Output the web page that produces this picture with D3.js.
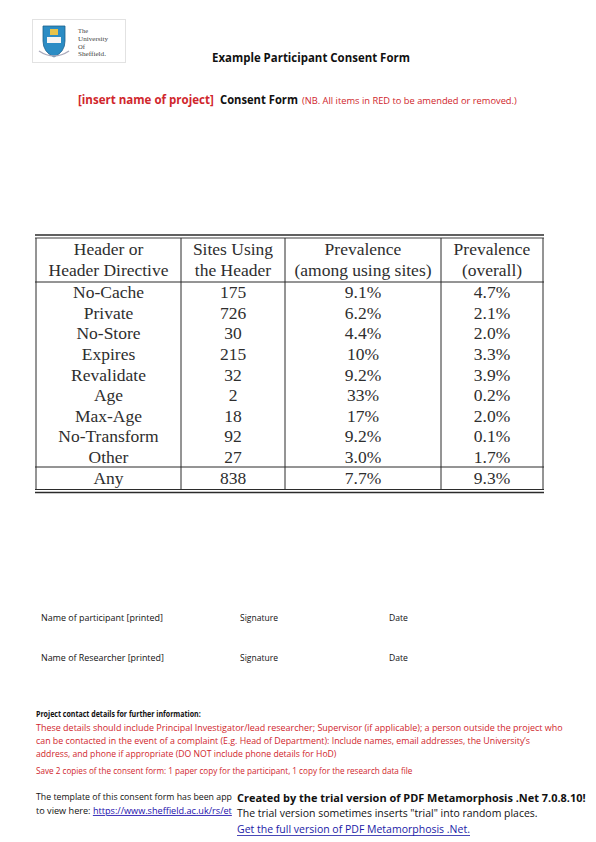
<!DOCTYPE html>
<html>
<head>
<meta charset="utf-8">
<script src="https://cdn.jsdelivr.net/npm/d3@7"></script>
<style>
  body { margin: 0; background: #fff; }
  svg { display: block; }
</style>
</head>
<body>
<div id="page"></div>
<script>
// table content
var headerLines = [
    ["Header or", "Header Directive"],
    ["Sites Using", "the Header"],
    ["Prevalence", "(among using sites)"],
    ["Prevalence", "(overall)"]
];
var directives = ["No-Cache", "Private", "No-Store", "Expires", "Revalidate", "Age", "Max-Age", "No-Transform", "Other", "Any"];
var sitesUsing = [175, 726, 30, 215, 32, 2, 18, 92, 27, 838];
var prevAmong = ["9.1%", "6.2%", "4.4%", "10%", "9.2%", "33%", "17%", "9.2%", "3.0%", "7.7%"];
var prevOverall = ["4.7%", "2.1%", "2.0%", "3.3%", "3.9%", "0.2%", "2.0%", "0.1%", "1.7%", "9.3%"];

var W = 596, H = 842;
var sans = "'Open Sans', 'Noto Sans', sans-serif";
var serif = "'Liberation Serif', 'DejaVu Serif', serif";
var red = "#d0262c";

var svg = d3.select("#page").append("svg")
    .attr("width", W)
    .attr("height", H);

// a line of text; if a width is given the text is squeezed horizontally to it
function txt(x, y, s, size, opts) {
    opts = opts || {};
    var g = svg.append("g").attr("transform", "translate(" + x + "," + y + ")");
    var t = g.append("text")
        .attr("font-family", opts.family || sans)
        .attr("font-size", size)
        .attr("font-weight", opts.bold ? "bold" : "normal")
        .attr("fill", opts.fill || "#111")
        .text(s);
    if (opts.width) {
        var k = opts.width / t.node().getComputedTextLength();
        g.attr("transform", "translate(" + x + "," + y + ") scale(" + k + ",1)");
    }
    return t;
}

// --- logo ---
svg.append("rect").attr("x", 32.5).attr("y", 19.5).attr("width", 93).attr("height", 43)
    .attr("fill", "#fff").attr("stroke", "#e2e2e2");
var shield = svg.append("g").attr("transform", "translate(42,25)");
shield.append("path")
    .attr("d", "M1,1 L23,1 L23,16 Q23,27 12,32 Q1,27 1,16 Z")
    .attr("fill", "#2b8cc4").attr("stroke", "#1d5f8a").attr("stroke-width", 0.8);
shield.append("rect").attr("x", 5).attr("y", 12).attr("width", 14).attr("height", 6).attr("fill", "#f4f4f4");
shield.append("rect").attr("x", 8).attr("y", 4).attr("width", 8).attr("height", 6).attr("fill", "#e7c34a");
shield.append("path").attr("d", "M-3,26 Q12,36 27,26").attr("fill", "none").attr("stroke", "#aab").attr("stroke-width", 1.5);
[["The", 10], ["University", 30], ["Of", 7], ["Sheffield.", 28]].forEach(function(s, i) {
    txt(78, 33 + i * 7.8, s[0], 6.6, {family: serif, fill: "#444", width: s[1]});
});

// --- headings ---
txt(212, 62, "Example Participant Consent Form", 12, {bold: true, width: 198});
txt(78, 104, "[insert name of project]", 13, {bold: true, fill: red, width: 136});
txt(220, 104, "Consent Form", 13, {bold: true, width: 78});
txt(302, 104, "(NB.  All items in RED to be amended or removed.)", 8.5, {fill: red, width: 215});

// --- table ---
var tLeft = 36, tRight = 543;
var colEdges = [tLeft, 181, 285, 441, tRight];
var colMid = colEdges.slice(0, 4).map(function(d, i) { return (d + colEdges[i + 1]) / 2; });

// rows 0..8 share the 282..467 span; "Any" sits below its own rule
var yBody = d3.scaleBand().domain(d3.range(9)).range([282, 467]);
function rowTop(i) { return i < 9 ? yBody(i) : 467; }
function rowH(i) { return i < 9 ? yBody.bandwidth() : 22; }

var table = svg.append("g").attr("font-family", serif).attr("fill", "#2e2e2e");
var lineColor = "#2b2b2b";

// horizontal rules
[[235, 1.3], [238, 0.9], [282, 1], [467, 1], [489.5, 1], [492.5, 1.3]].forEach(function(r) {
    table.append("line")
        .attr("x1", tLeft - 1).attr("x2", tRight + 1)
        .attr("y1", r[0]).attr("y2", r[0])
        .attr("stroke", lineColor).attr("stroke-width", r[1]);
});
// vertical rules
colEdges.forEach(function(x) {
    table.append("line")
        .attr("x1", x).attr("x2", x)
        .attr("y1", 238).attr("y2", 489.5)
        .attr("stroke", lineColor).attr("stroke-width", 1);
});

// header cells
headerLines.forEach(function(lines, c) {
    lines.forEach(function(s, k) {
        table.append("text")
            .attr("x", colMid[c])
            .attr("y", 255 + k * 20.5)
            .attr("text-anchor", "middle")
            .attr("font-size", 17.5)
            .text(s);
    });
});

// body cells
var rows = directives.map(function(d, i) {
    return [d, sitesUsing[i], prevAmong[i], prevOverall[i]];
});
table.selectAll("g.row")
    .data(rows)
    .join("g")
        .attr("class", "row")
        .attr("transform", function(d, i) { return "translate(0," + (rowTop(i) + rowH(i) / 2 + 6) + ")"; })
    .selectAll("text")
    .data(function(d) { return d; })
    .join("text")
        .attr("x", function(d, c) { return colMid[c]; })
        .attr("text-anchor", "middle")
        .attr("font-size", 17.5)
        .text(function(d) { return d; });

// --- signatures ---
[["Name of participant  [printed]", 621, 122], ["Name of Researcher  [printed]", 661, 123]].forEach(function(r) {
    txt(41, r[1], r[0], 8.5, {width: r[2]});
    txt(240, r[1], "Signature", 8.5, {width: 38});
    txt(389, r[1], "Date", 8.5, {width: 19});
});

// --- contact details ---
txt(36, 717, "Project contact details for further information:", 8.5, {bold: true, width: 165});
var redLines = [
    ["These details should include Principal Investigator/lead researcher; Supervisor (if applicable); a person outside the project who", 731, 527],
    ["can be contacted in the event of a complaint (E.g. Head of Department):  Include names, email addresses, the University\u2019s", 744, 495],
    ["address, and phone if appropriate (DO NOT include phone details for HoD)", 757, 301],
    ["Save 2 copies of the consent form: 1 paper copy for the participant, 1 copy for the research data file", 774, 377]
];
redLines.forEach(function(r) {
    txt(36, r[1], r[0], 8.5, {fill: red, width: r[2]});
});

// this text is cut off by the watermark box in the original
txt(36, 800, "The template of this consent form has been app", 8.5, {width: 196});
var link = txt(36, 814, "to view here: ", 8.5, {width: 196});
link.append("tspan").attr("fill", "#1a0dab").attr("text-decoration", "underline")
    .text("https://www.sheffield.ac.uk/rs/et");
var lk = 196 / link.node().getComputedTextLength();
d3.select(link.node().parentNode).attr("transform", "translate(36,814) scale(" + lk + ",1)");

// --- trial watermark ---
svg.append("rect").attr("x", 234).attr("y", 786).attr("width", 362).attr("height", 50).attr("fill", "#fff");
txt(237, 802, "Created by the trial version of PDF Metamorphosis .Net 7.0.8.10!", 11, {bold: true, width: 349});
txt(237, 817, "The trial version sometimes inserts \"trial\" into random places.", 11, {width: 301});
txt(237, 833, "Get the full version of PDF Metamorphosis .Net.", 11, {fill: "#1a1aa6", width: 233});
svg.append("line").attr("x1", 237).attr("x2", 470).attr("y1", 835.5).attr("y2", 835.5)
    .attr("stroke", "#1a1aa6").attr("stroke-width", 0.8);
</script>
</body>
</html>
